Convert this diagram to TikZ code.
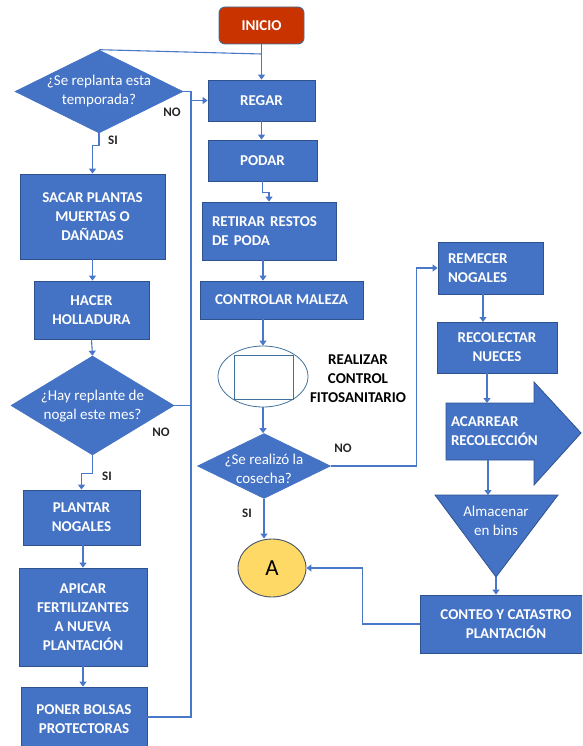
\documentclass[tikz,border=0pt]{standalone}
\usepackage{fontspec}
\setmainfont{Carlito}
\usetikzlibrary{shapes.geometric,arrows.meta}

\definecolor{boxblue}{HTML}{4472C4}
\definecolor{boxedge}{HTML}{2F528F}
\definecolor{flowline}{HTML}{4A78C8}
\definecolor{startred}{HTML}{C93300}
\definecolor{startedge}{HTML}{41719C}
\definecolor{ellline}{HTML}{41719C}
\definecolor{connfill}{HTML}{FFD966}
\definecolor{connedge}{HTML}{44546A}
\definecolor{labelgray}{HTML}{262626}

\tikzset{
  stepbox/.style={rectangle, fill=boxblue, draw=boxedge, line width=0.8pt,
    text=white, font=\bfseries\fontsize{15}{19}\selectfont, align=center, inner sep=0pt},
  startbox/.style={rectangle, rounded corners=6pt, fill=startred, draw=startedge,
    line width=0.9pt, text=white, font=\bfseries\fontsize{15}{19}\selectfont, inner sep=0pt},
  decision/.style={diamond, fill=boxblue, draw=boxblue, line width=0.6pt, inner sep=0pt},
  dtext/.style={text=white, font=\fontsize{15}{19}\selectfont, align=center, inner sep=0pt},
  branchlbl/.style={text=labelgray, font=\bfseries\fontsize{13}{15}\selectfont, inner sep=0pt},
  conn/.style={draw=flowline, line width=1.1pt},
  arr/.style={conn, -{Triangle[length=5pt,width=7pt]}},
}

\begin{document}
\begin{tikzpicture}[x=1pt,y=-1pt]
\useasboundingbox (0,0) rectangle (582,746);
\clip (0,0) rectangle (582,746);

% ---- left column ----
\node[startbox, minimum width=85pt, minimum height=37pt] (inicio) at (261.5,25.5) {INICIO};

\node[decision, minimum width=168pt, minimum height=83pt] (d1) at (99,91.5) {};
\node[dtext] (d1t) at (99,91.5) {¿Se replanta esta\\temporada?};

\node[stepbox, minimum width=145pt, minimum height=85pt] (sacar) at (92.5,216.5)
  {SACAR PLANTAS\\MUERTAS O\\DAÑADAS};
\node[stepbox, minimum width=115pt, minimum height=58pt] (hacer) at (91.5,310)
  {HACER\\HOLLADURA};

\node[decision, minimum width=163pt, minimum height=99pt] (d2) at (92.5,405.5) {};
\node[dtext] (d2t) at (92.5,406) {¿Hay replante de\\nogal este mes?};

\node[stepbox, minimum width=117pt, minimum height=55pt] (plantar) at (81.5,517.5)
  {PLANTAR\\NOGALES};
\node[stepbox, minimum width=128pt, minimum height=98pt] (apicar) at (83,617)
  {APICAR\\FERTILIZANTES\\A NUEVA\\PLANTACIÓN};
\node[stepbox, minimum width=126pt, minimum height=64pt] (poner) at (84,719)
  {PONER BOLSAS\\PROTECTORAS};

% ---- middle column ----
\node[stepbox, minimum width=107pt, minimum height=41pt] (regar) at (261.5,100.5) {REGAR};
\node[stepbox, minimum width=109pt, minimum height=41pt] (podar) at (262.5,160.5) {PODAR};
\node[stepbox, minimum width=134pt, minimum height=58pt, text width=114pt, align=left]
  (retirar) at (269,231) {RETIRAR RESTOS\\DE PODA};
\node[stepbox, minimum width=163pt, minimum height=38pt] (controlar) at (281.5,300)
  {CONTROLAR MALEZA};

\node[ellipse, draw=ellline, line width=0.8pt, minimum width=90pt, minimum height=61pt,
  inner sep=0pt] (ell) at (263,376.5) {};
\node[rectangle, draw=ellline, line width=0.8pt, minimum width=59pt, minimum height=44pt,
  inner sep=0pt] (ellbox) at (263.5,377) {};
\node[text=black, font=\bfseries\fontsize{15}{19}\selectfont, align=center, inner sep=0pt]
  (fito) at (358,379) {REALIZAR\\CONTROL\\FITOSANITARIO};

\node[decision, minimum width=133pt, minimum height=65pt] (d3) at (264,466) {};
\node[dtext] (d3t) at (264,469) {¿Se realizó la\\cosecha?};

\node[ellipse, fill=connfill, draw=connedge, line width=0.9pt, minimum width=68pt,
  minimum height=58pt, inner sep=0pt, font=\fontsize{23}{25}\selectfont] (conA) at (272,568) {A};

% ---- right column ----
\node[stepbox, minimum width=105pt, minimum height=52pt, text width=85pt, align=left]
  (remecer) at (490.5,268) {REMECER\\NOGALES};
\node[stepbox, minimum width=120pt, minimum height=51pt] (recolectar) at (497,347.5)
  {RECOLECTAR\\NUECES};

% block arrow behind its text
\fill[boxblue] (446,403) -- (534,403) -- (534,382) -- (581,433) -- (534,485)
  -- (534,460) -- (446,460) -- cycle;
\draw[boxedge, line width=0.8pt] (446,403) -- (534,403) -- (534,382) -- (581,433)
  -- (534,485) -- (534,460) -- (446,460) -- cycle;
\node[rectangle, minimum width=88pt, minimum height=57pt, text width=78pt, align=left,
  inner sep=0pt, text=white, font=\bfseries\fontsize{15}{19}\selectfont]
  (acarrear) at (490,431.5) {ACARREAR\\RECOLECCIÓN};

% storage triangle
\coordinate (almTL) at (435,495);
\coordinate (almTR) at (558,495);
\coordinate (almB) at (496,577);
\fill[boxblue] (almTL) -- (almTR) -- (almB) -- cycle;
\draw[boxedge, line width=0.8pt] (almTL) -- (almTR) -- (almB) -- cycle;
\node[dtext] (almacenar) at (496,521) {Almacenar\\en bins};

\node[stepbox, minimum width=172pt, minimum height=58pt] (conteo) at (506,624)
  {CONTEO Y CATASTRO\\PLANTACIÓN};

% ---- connectors ----
\coordinate (join) at (261.5,54);
\draw[arr] (inicio.south) -- (regar.north);
\draw[conn] (d1.north) -- (join);

% common return trunk towards REGAR
\coordinate (trunkTop) at (191,91.5);
\coordinate (trunkBot) at (191,717);
\draw[conn] (d1.east) -- (trunkTop) -- (trunkBot) -- (poner.east |- trunkBot);
\draw[arr] (trunkTop |- regar.west) -- (regar.west);
\draw[conn] (d2.east) -- (trunkTop |- d2.east);

\draw[arr] (d1.south) -- ++(0,12) -| (sacar.north);
\draw[arr] (sacar.south) -- (sacar.south |- hacer.north);
\draw[arr] (hacer.south) -- (d2.north);
\draw[arr] (d2.south) -- ++(0,18) -| (plantar.north);
\draw[arr] (apicar.north |- plantar.south) -- (apicar.north);
\draw[arr] (apicar.south) -- (apicar.south |- poner.north);

\draw[arr] (regar.south) -- (regar.south |- podar.north);
\draw[arr] (podar.south) -- ++(0,11) -| (retirar.north);
\draw[arr] (ell.north |- retirar.south) -- (ell.north |- controlar.north);
\draw[arr] (ell.north |- controlar.south) -- (ell.north);
\draw[arr] (ell.south) -- (ell.south |- d3.north);
\draw[arr] (d3.east) -- ++(86,0) |- (remecer.west);
\draw[arr] (d3.south) -- (d3.south |- conA.north);

\draw[arr] (483,294) -- (483,322);
\draw[arr] (487,373) -- (487,403);
\draw[arr] (488,460) -- (488,495);
\draw[arr] (almB) -- (almB |- conteo.north);
\draw[arr] (conteo.west) -- ++(-57,0) |- (conA.east);

% ---- branch labels ----
\node[branchlbl] (no1) at (172,112) {NO};
\node[branchlbl] (si1) at (113,140) {SI};
\node[branchlbl] (no2) at (161,432) {NO};
\node[branchlbl] (si2) at (107,476) {SI};
\node[branchlbl] (no3) at (343,448) {NO};
\node[branchlbl] (si3) at (247,513) {SI};
\end{tikzpicture}
\end{document}
